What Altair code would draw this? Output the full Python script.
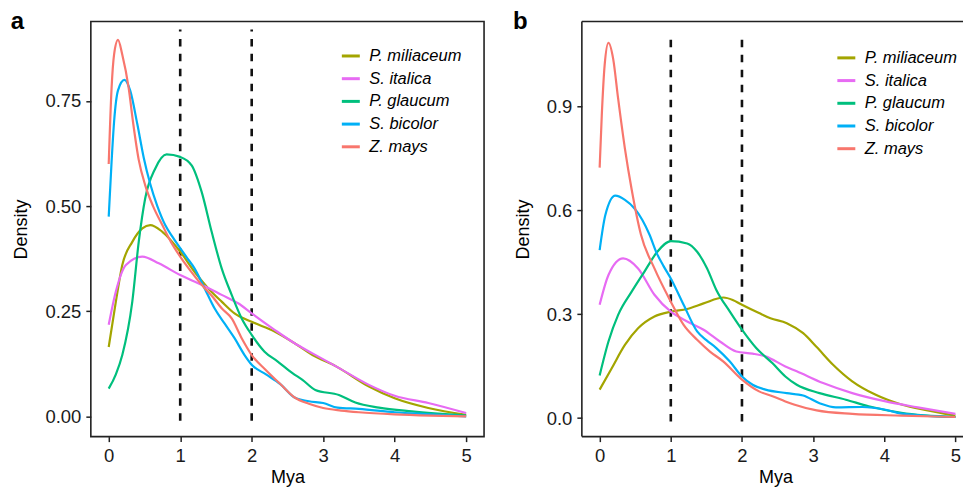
import altair as alt
import pandas as pd

FONT = "Liberation Sans"
species = ["P. miliaceum", "S. italica", "P. glaucum", "S. bicolor", "Z. mays"]
colors = ["#A3A500", "#E76BF3", "#00BF7D", "#00B0F6", "#F8766D"]

# ---------------- panel a ----------------
a_mil_x = [0, 0.1, 0.19, 0.33, 0.47, 0.58, 0.75, 1.0, 1.2, 1.39, 1.58, 1.76, 2.0, 2.32, 2.6, 2.85, 3.18, 3.64, 4.0, 4.47, 5.0]
a_mil_y = [0.165, 0.273, 0.36, 0.415, 0.447, 0.455, 0.439, 0.392, 0.344, 0.305, 0.273, 0.245, 0.225, 0.202, 0.174, 0.146, 0.119, 0.071, 0.043, 0.020, 0.004]

a_ita_x = [0, 0.1, 0.24, 0.47, 0.7, 1.0, 1.3, 1.58, 1.81, 2.0, 2.32, 2.6, 2.85, 3.18, 3.64, 4.0, 4.47, 5.0]
a_ita_y = [0.218, 0.297, 0.36, 0.38, 0.364, 0.336, 0.313, 0.289, 0.269, 0.245, 0.206, 0.174, 0.150, 0.119, 0.075, 0.049, 0.032, 0.008]

a_gla_x = [0, 0.1, 0.19, 0.33, 0.42, 0.51, 0.65, 0.81, 1.0, 1.16, 1.3, 1.44, 1.58, 1.72, 1.86, 2.0, 2.18, 2.36, 2.57, 2.71, 2.89, 3.22, 3.45, 3.78, 4.24, 5.0]
a_gla_y = [0.066, 0.10, 0.146, 0.273, 0.415, 0.518, 0.589, 0.623, 0.617, 0.597, 0.534, 0.439, 0.352, 0.289, 0.233, 0.194, 0.154, 0.131, 0.103, 0.087, 0.063, 0.051, 0.033, 0.021, 0.012, 0.002]

a_bic_x = [0, 0.04, 0.075, 0.13, 0.22, 0.3, 0.4, 0.49, 0.58, 0.68, 0.79, 0.9, 1.0, 1.1, 1.2, 1.34, 1.48, 1.62, 1.76, 1.9, 2.0, 2.2, 2.4, 2.6, 2.8, 3.0, 3.2, 3.5, 4.0, 4.5, 5.0]
a_bic_y = [0.475, 0.605, 0.70, 0.775, 0.80, 0.775, 0.695, 0.615, 0.553, 0.50, 0.455, 0.425, 0.40, 0.376, 0.352, 0.305, 0.257, 0.221, 0.186, 0.146, 0.123, 0.10, 0.077, 0.045, 0.036, 0.032, 0.021, 0.018, 0.010, 0.005, 0.0]

a_may_x = [0, 0.04, 0.075, 0.13, 0.19, 0.28, 0.34, 0.42, 0.51, 0.62, 0.75, 0.87, 1.0, 1.15, 1.3, 1.45, 1.58, 1.72, 1.86, 2.0, 2.2, 2.4, 2.6, 2.8, 3.0, 3.25, 3.5, 4.0, 4.5, 5.0]
a_may_y = [0.60, 0.78, 0.86, 0.895, 0.86, 0.78, 0.70, 0.610, 0.55, 0.50, 0.455, 0.415, 0.38, 0.345, 0.313, 0.285, 0.257, 0.233, 0.186, 0.146, 0.11, 0.077, 0.045, 0.03, 0.02, 0.014, 0.01, 0.005, 0.002, 0.0]

# ---------------- panel b ----------------
b_mil_x = [0, 0.17, 0.355, 0.54, 0.77, 1.0, 1.23, 1.46, 1.74, 1.87, 2.0, 2.24, 2.4, 2.63, 2.86, 3.05, 3.28, 3.55, 3.88, 4.24, 4.61, 5.0]
b_mil_y = [0.082, 0.144, 0.211, 0.259, 0.293, 0.307, 0.315, 0.331, 0.348, 0.341, 0.327, 0.303, 0.288, 0.274, 0.245, 0.205, 0.154, 0.106, 0.067, 0.039, 0.022, 0.007]

b_ita_x = [0, 0.124, 0.33, 0.54, 0.77, 1.0, 1.23, 1.46, 1.69, 1.92, 2.15, 2.33, 2.61, 2.77, 3.14, 3.55, 4.02, 4.47, 5.0]
b_ita_y = [0.327, 0.413, 0.461, 0.432, 0.356, 0.307, 0.279, 0.255, 0.221, 0.192, 0.186, 0.178, 0.149, 0.135, 0.101, 0.072, 0.048, 0.031, 0.012]

b_gla_x = [0, 0.124, 0.26, 0.45, 0.63, 0.81, 1.0, 1.23, 1.37, 1.51, 1.64, 1.83, 2.0, 2.2, 2.43, 2.61, 2.77, 3.09, 3.46, 3.78, 4.24, 5.0]
b_gla_y = [0.123, 0.221, 0.298, 0.365, 0.423, 0.48, 0.511, 0.504, 0.48, 0.432, 0.37, 0.307, 0.255, 0.202, 0.158, 0.12, 0.096, 0.072, 0.053, 0.034, 0.015, 0.003]

b_bic_x = [0, 0.08, 0.22, 0.355, 0.49, 0.6, 0.7, 0.8, 0.9, 1.0, 1.18, 1.37, 1.5, 1.64, 1.83, 2.0, 2.15, 2.33, 2.63, 2.86, 3.09, 3.32, 3.69, 4.02, 4.24, 5.0]
b_bic_y = [0.485, 0.586, 0.642, 0.630, 0.605, 0.572, 0.53, 0.477, 0.438, 0.403, 0.327, 0.25, 0.225, 0.202, 0.163, 0.12, 0.096, 0.082, 0.072, 0.065, 0.043, 0.031, 0.032, 0.024, 0.013, 0.003]

b_may_x = [0, 0.03, 0.07, 0.124, 0.19, 0.26, 0.355, 0.45, 0.58, 0.77, 1.0, 1.18, 1.37, 1.55, 1.74, 2.0, 2.24, 2.43, 2.61, 2.73, 3.05, 3.55, 4.24, 5.0]
b_may_y = [0.723, 0.874, 1.018, 1.083, 1.037, 0.922, 0.778, 0.66, 0.53, 0.432, 0.336, 0.269, 0.226, 0.192, 0.163, 0.111, 0.077, 0.063, 0.048, 0.039, 0.022, 0.012, 0.007, 0.003]

vline_x = [1, 2]
a_vline_y = [-0.01, 0.92]
b_vline_y = [-0.01, 1.11]

a_ticks = [0, 0.25, 0.5, 0.75]
b_ticks = [0, 0.3, 0.6, 0.9]
x_ticks = [0, 1, 2, 3, 4, 5]

PANEL_H = 416
A_W = 394
B_W = 388
UNIT_B = 71.3

def series_df(name, xs, ys):
    return pd.DataFrame({"x": xs, "y": ys, "species": [name] * len(xs)})

def panel(series, xdom, ydom, yticks, yfmt, W, label, label_x, legend_x, legend_y, vline_y, frame_rules):
    xenc = alt.X("x:Q", scale=alt.Scale(domain=xdom, nice=False, zero=False),
                 axis=alt.Axis(values=x_ticks, format="d", title="Mya"))
    yenc = alt.Y("y:Q", scale=alt.Scale(domain=ydom, nice=False, zero=False),
                 axis=alt.Axis(values=yticks, format=yfmt, title="Density"))
    cenc = alt.Color("species:N", scale=alt.Scale(domain=species, range=colors),
                     legend=alt.Legend(orient="none", legendX=legend_x, legendY=legend_y, title=None,
                                       symbolType="stroke", symbolSize=324, symbolStrokeWidth=3,
                                       labelFont=FONT, labelFontSize=16.5, labelFontStyle="italic",
                                       labelColor="#000000", labelOffset=8, rowPadding=3.75, padding=0))
    layers = []
    vdf = pd.DataFrame({"x": vline_x, "y": [vline_y[0]] * 2, "y2": [vline_y[1]] * 2})
    layers.append(alt.Chart(vdf).mark_rule(strokeDash=[7.5, 7.5], strokeWidth=2.6, color="#111111")
                  .encode(x=xenc, y=yenc, y2="y2:Q"))
    for name, xs, ys in series:
        layers.append(alt.Chart(series_df(name, xs, ys))
                      .mark_line(strokeWidth=2.2, interpolate="monotone", clip=True)
                      .encode(x=xenc, y=yenc, color=cenc))
    one = pd.DataFrame({"t": [label]})
    layers.append(alt.Chart(one).mark_text(font=FONT, fontSize=24, fontWeight="bold", align="left",
                                           baseline="alphabetic", color="#000000")
                  .encode(text="t:N", x=alt.value(label_x), y=alt.value(7.7)))
    if frame_rules:
        fr = pd.DataFrame({"k": [0]})
        st = dict(color="#222222", strokeWidth=1.6)
        layers.append(alt.Chart(fr).mark_rule(**st).encode(x=alt.value(0), x2=alt.value(W), y=alt.value(0)))
        layers.append(alt.Chart(fr).mark_rule(**st).encode(x=alt.value(0), x2=alt.value(W), y=alt.value(PANEL_H)))
        layers.append(alt.Chart(fr).mark_rule(**st).encode(x=alt.value(0), y=alt.value(0), y2=alt.value(PANEL_H)))
    ch = alt.layer(*layers).properties(width=W, height=PANEL_H)
    if frame_rules:
        ch = ch.properties(view=alt.ViewBackground(strokeOpacity=0))
    return ch

series_a = [("P. miliaceum", a_mil_x, a_mil_y), ("S. italica", a_ita_x, a_ita_y),
            ("P. glaucum", a_gla_x, a_gla_y), ("S. bicolor", a_bic_x, a_bic_y),
            ("Z. mays", a_may_x, a_may_y)]
series_b = [("P. miliaceum", b_mil_x, b_mil_y), ("S. italica", b_ita_x, b_ita_y),
            ("P. glaucum", b_gla_x, b_gla_y), ("S. bicolor", b_bic_x, b_bic_y),
            ("Z. mays", b_may_x, b_may_y)]

pa = panel(series_a, [-0.25, 5.25], [-0.048, 0.939], a_ticks, ".2f", A_W, "a", -80.3, 250, 24.1, a_vline_y, False)
pb = panel(series_b, [-0.25, -0.25 + B_W / UNIT_B], [-0.0536, 1.145], b_ticks, ".1f", B_W, "b", -69.1, 254.5, 26, b_vline_y, True)

chart = alt.hconcat(pa, pb, spacing=98, bounds="flush").resolve_scale(color="independent").configure(
    padding={"left": 1, "top": 0, "right": -7.1, "bottom": -0.5},
    font=FONT,
).configure_view(stroke="#222222", strokeWidth=1.6).configure_axis(
    grid=False, domain=False,
    labelFont=FONT, labelFontSize=18.5, labelColor="#1a1a1a", labelPadding=5,
    titleFont=FONT, titleFontSize=18, titleFontWeight="normal", titleColor="#000000",
    tickSize=5, tickWidth=1.5, tickColor="#222222",
).configure_axisY(titlePadding=14).configure_axisX(titlePadding=3.5)

chart.save("out.html", embed_options={"renderer": "svg", "actions": False})
